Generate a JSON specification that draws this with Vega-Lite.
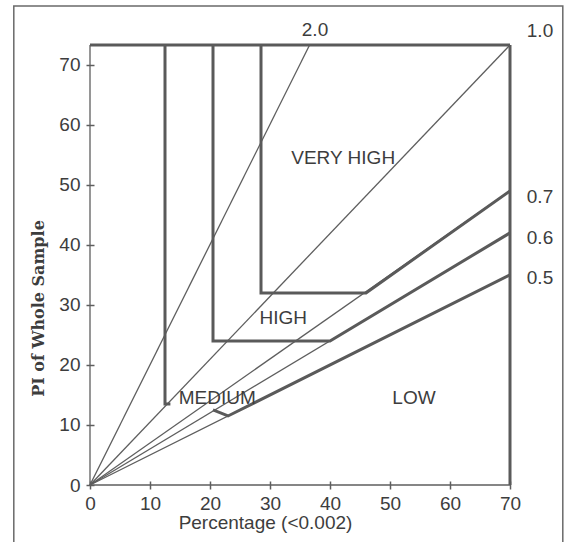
{
  "$schema": "https://vega.github.io/schema/vega-lite/v6.json",
  "width": 420,
  "height": 440,
  "autosize": "none",
  "padding": {"left": 90, "top": 45, "right": 58, "bottom": 57},
  "background": "white",
  "config": {"view": {"stroke": null}, "font": "Liberation Sans"},
  "datasets": {
    "lines": [
      {"id": "a20", "kind": "thin", "i": 0, "x": 0, "y": 0},
      {"id": "a20", "kind": "thin", "i": 1, "x": 36.6, "y": 73.3},
      {"id": "a10", "kind": "thin", "i": 0, "x": 0, "y": 0},
      {"id": "a10", "kind": "thin", "i": 1, "x": 70, "y": 73.3},
      {"id": "a07", "kind": "thin", "i": 0, "x": 0, "y": 0},
      {"id": "a07", "kind": "thin", "i": 1, "x": 70, "y": 49},
      {"id": "a06", "kind": "thin", "i": 0, "x": 0, "y": 0},
      {"id": "a06", "kind": "thin", "i": 1, "x": 70, "y": 42},
      {"id": "a05", "kind": "thin", "i": 0, "x": 0, "y": 0},
      {"id": "a05", "kind": "thin", "i": 1, "x": 70, "y": 35},
      {"id": "axL", "kind": "thin", "i": 0, "x": 0, "y": 0},
      {"id": "axL", "kind": "thin", "i": 1, "x": 0, "y": 73.3},
      {"id": "axB", "kind": "thin", "i": 0, "x": 0, "y": 0},
      {"id": "axB", "kind": "thin", "i": 1, "x": 70, "y": 0},
      {"id": "bVH", "kind": "thick", "i": 0, "x": 28.5, "y": 73.3},
      {"id": "bVH", "kind": "thick", "i": 1, "x": 28.5, "y": 32},
      {"id": "bVH", "kind": "thick", "i": 2, "x": 46, "y": 32},
      {"id": "bVH", "kind": "thick", "i": 3, "x": 70, "y": 49},
      {"id": "bH", "kind": "thick", "i": 0, "x": 20.5, "y": 73.3},
      {"id": "bH", "kind": "thick", "i": 1, "x": 20.5, "y": 24},
      {"id": "bH", "kind": "thick", "i": 2, "x": 40, "y": 24},
      {"id": "bH", "kind": "thick", "i": 3, "x": 70, "y": 42},
      {"id": "bM", "kind": "thick", "i": 0, "x": 12.5, "y": 73.3},
      {"id": "bM", "kind": "thick", "i": 1, "x": 12.5, "y": 13.5},
      {"id": "bM", "kind": "thick", "i": 2, "x": 13.4, "y": 13.5},
      {"id": "bL", "kind": "thick", "i": 0, "x": 20.5, "y": 12.5},
      {"id": "bL", "kind": "thick", "i": 1, "x": 23, "y": 11.5},
      {"id": "bL", "kind": "thick", "i": 2, "x": 70, "y": 35},
      {"id": "frT", "kind": "thick", "i": 0, "x": 0, "y": 73.3},
      {"id": "frT", "kind": "thick", "i": 1, "x": 70, "y": 73.3},
      {"id": "frR", "kind": "thick", "i": 0, "x": 70, "y": 73.3},
      {"id": "frR", "kind": "thick", "i": 1, "x": 70, "y": 0}
    ],
    "labels": [
      {"text": "2.0", "x": 37.5, "y": 75.8},
      {"text": "1.0", "x": 75, "y": 75.6},
      {"text": "0.7", "x": 75, "y": 48},
      {"text": "0.6", "x": 75, "y": 41.2},
      {"text": "0.5", "x": 75, "y": 34.5},
      {"text": "VERY HIGH", "x": 42.2, "y": 54.5},
      {"text": "HIGH", "x": 32.2, "y": 27.8},
      {"text": "MEDIUM", "x": 21.2, "y": 14.5},
      {"text": "LOW", "x": 54, "y": 14.5}
    ],
    "border": [
      {"x": -12.7, "x2": 78.8, "y": 79.8, "y2": -10}
    ]
  },
  "layer": [
    {
      "data": {"name": "lines"},
      "transform": [{"filter": "datum.kind == 'thin'"}],
      "mark": {"type": "line", "strokeWidth": 1.3, "color": "#5e5e5e"},
      "encoding": {
        "x": {
          "field": "x", "type": "quantitative",
          "scale": {"domain": [0, 70], "nice": false, "zero": false},
          "axis": {
            "values": [0, 10, 20, 30, 40, 50, 60, 70],
            "offset": -4, "tickSize": 8, "domain": false, "grid": false,
            "labelFlush": false,
            "labelPadding": 5, "labelFontSize": 19, "labelColor": "#3d3d3d",
            "tickColor": "#5e5e5e", "tickWidth": 1.5,
            "title": "Percentage (<0.002)", "titleFontSize": 19,
            "titleFontWeight": "normal", "titleColor": "#3d3d3d",
            "titleX": 175, "titleY": 41, "titleBaseline": "middle", "titleAlign": "center"
          }
        },
        "y": {
          "field": "y", "type": "quantitative",
          "scale": {"domain": [0, 73.3], "nice": false, "zero": false},
          "axis": {
            "values": [0, 10, 20, 30, 40, 50, 60, 70],
            "offset": -4, "tickSize": 8, "domain": false, "grid": false,
            "labelFlush": false,
            "labelPadding": 6, "labelFontSize": 19, "labelColor": "#3d3d3d",
            "tickColor": "#5e5e5e", "tickWidth": 1.5,
            "title": "PI of Whole Sample", "titleFont": "DejaVu Serif",
            "titleFontSize": 16, "titleFontWeight": "bold", "titleColor": "#3d3d3d",
            "titleAngle": -90, "titleX": -56, "titleY": 263,
            "titleBaseline": "middle", "titleAlign": "center"
          }
        },
        "detail": {"field": "id"},
        "order": {"field": "i", "type": "quantitative"}
      }
    },
    {
      "data": {"name": "lines"},
      "transform": [{"filter": "datum.kind == 'thick'"}],
      "mark": {"type": "line", "strokeWidth": 3, "color": "#5a5a5a", "strokeJoin": "miter"},
      "encoding": {
        "x": {"field": "x", "type": "quantitative"},
        "y": {"field": "y", "type": "quantitative"},
        "detail": {"field": "id"},
        "order": {"field": "i", "type": "quantitative"}
      }
    },
    {
      "data": {"name": "labels"},
      "mark": {"type": "text", "fontSize": 19, "color": "#3d3d3d", "align": "center", "baseline": "middle", "font": "Liberation Sans"},
      "encoding": {
        "x": {"field": "x", "type": "quantitative"},
        "y": {"field": "y", "type": "quantitative"},
        "text": {"field": "text"}
      }
    },
    {
      "data": {"name": "border"},
      "mark": {"type": "rect", "fillOpacity": 0, "stroke": "#6a6a6a", "strokeWidth": 1.5},
      "encoding": {
        "x": {"field": "x", "type": "quantitative"},
        "x2": {"field": "x2"},
        "y": {"field": "y", "type": "quantitative"},
        "y2": {"field": "y2"}
      }
    }
  ]
}
